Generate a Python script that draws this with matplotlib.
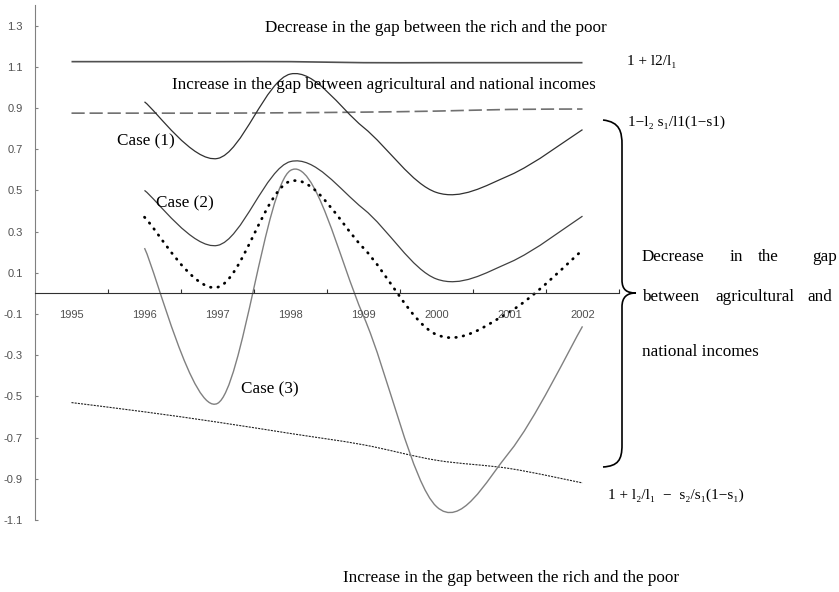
import numpy as np
import matplotlib
matplotlib.use("Agg")
import matplotlib.pyplot as plt
from matplotlib.path import Path
from matplotlib.patches import PathPatch

plt.rcParams['lines.scale_dashes'] = False

years = ["1995", "1996", "1997", "1998", "1999", "2000", "2001", "2002"]
y_ticks = [1.3, 1.1, 0.9, 0.7, 0.5, 0.3, 0.1, -0.1, -0.3, -0.5, -0.7, -0.9, -1.1]

# boundary lines, 1995-2002
upper_bound = [1.125, 1.125, 1.125, 1.125, 1.12, 1.12, 1.12, 1.12]
middle_bound = [0.875, 0.875, 0.875, 0.877, 0.88, 0.885, 0.893, 0.895]
lower_bound = [-0.53, -0.575, -0.625, -0.68, -0.735, -0.81, -0.85, -0.92]

# the three cases, 1996-2002
case1 = [0.93, 0.655, 1.065, 0.806, 0.49, 0.573, 0.795]
case2 = [0.50, 0.233, 0.64, 0.41, 0.07, 0.15, 0.375]
case_dotted = [0.37, 0.03, 0.545, 0.22, -0.2, -0.09, 0.21]
case3 = [0.22, -0.534, 0.597, -0.11, -1.035, -0.77, -0.16]

SERIF = ['Liberation Serif', 'DejaVu Serif']
NARROW = ['Liberation Sans Narrow', 'Liberation Sans']
W, H = 839, 592


def smooth(xs, ys):
    # Excel-style smoothed line: Catmull-Rom segments as cubic Beziers
    pts = np.column_stack([xs, ys]).astype(float)
    p = np.vstack([pts[0], pts, pts[-1]])
    verts, codes = [pts[0]], [Path.MOVETO]
    for i in range(1, len(p) - 2):
        c1 = p[i] + (p[i + 1] - p[i - 1]) / 6
        c2 = p[i + 1] - (p[i + 2] - p[i]) / 6
        verts += [c1, c2, p[i + 1]]
        codes += [Path.CURVE4] * 3
    return Path(verts, codes)


def draw(ax, xs, ys, **kw):
    ax.add_patch(PathPatch(smooth(xs, ys), fill=False, **kw))


def fx(x):
    return x / W


def fy(y):
    return 1 - y / H


fig = plt.figure(figsize=(W / 100, H / 100), dpi=100)
ax = fig.add_axes([fx(35), fy(520), (619 - 35) / W, 515 / H])

idx = np.arange(len(years))
draw(ax, idx, upper_bound, color='#505050', lw=1.2)
draw(ax, idx, middle_bound, color='#707070', lw=1.2, linestyle=(0, (9.5, 3.5)))
draw(ax, idx, lower_bound, color='#202020', lw=0.8, linestyle=(0, (1.5, 0.8)))

cx = idx[1:]
draw(ax, cx, case1, color='#303030', lw=0.9)
draw(ax, cx, case2, color='#404040', lw=0.9)
draw(ax, cx, case3, color='#808080', lw=1.0)
draw(ax, cx, case_dotted, color='black', lw=2.0, linestyle=(0, (0.4, 5.0)),
     capstyle='round')

ax.set_xlim(-0.5, len(years) - 0.5)
ax.set_ylim(-1.1, 1.4)

for s in ['top', 'right']:
    ax.spines[s].set_visible(False)
ax.spines['bottom'].set_position(('data', 0))
ax.spines['bottom'].set_color('#303030')
ax.spines['left'].set_color('#808080')

ax.set_xticks(idx + 0.5)
ax.set_xticklabels([])
ax.set_xticks(idx, minor=True)
ax.set_xticklabels(years, minor=True, fontsize=8, color='#505050', family=NARROW)
ax.tick_params(axis='x', which='major', direction='in', length=3, color='#303030')
ax.tick_params(axis='x', which='minor', length=0, pad=12)

ax.set_yticks(y_ticks)
ax.set_yticklabels(['%.1f' % v for v in y_ticks], fontsize=8, color='#505050',
                   family=NARROW)
ax.tick_params(axis='y', direction='in', length=2.5, color='#808080', pad=9)

# text annotations
big = 12.3
fig.text(fx(436), fy(28), "Decrease in the gap between the rich and the poor",
         ha='center', va='center', fontsize=big, family=SERIF)
fig.text(fx(384), fy(85), "Increase in the gap between agricultural and national incomes",
         ha='center', va='center', fontsize=big, family=SERIF)
fig.text(fx(511), fy(578), "Increase in the gap between the rich and the poor",
         ha='center', va='center', fontsize=big, family=SERIF)

fig.text(fx(117), fy(141), "Case (1)", ha='left', va='center', fontsize=big, family=SERIF)
fig.text(fx(156), fy(203), "Case (2)", ha='left', va='center', fontsize=big, family=SERIF)
fig.text(fx(241), fy(389), "Case (3)", ha='left', va='center', fontsize=big, family=SERIF)

fig.text(fx(627), fy(61), "1 + l2/l\u2081", ha='left', va='center', fontsize=11, family=SERIF)
fig.text(fx(628), fy(122), "1\u2212l\u2082 s\u2081/l1(1\u2212s1)", ha='left', va='center',
         fontsize=11, family=SERIF)
fig.text(fx(608), fy(495), "1 + l\u2082/l\u2081  \u2212  s\u2082/s\u2081(1\u2212s\u2081)",
         ha='left', va='center', fontsize=11, family=SERIF)

# justified block to the right of the brace
for word, x, y in [("Decrease", 642, 257), ("in", 730, 257), ("the", 758, 257),
                   ("gap", 812, 257), ("between", 642, 297), ("agricultural", 715, 297),
                   ("and", 807, 297), ("national incomes", 642, 352)]:
    fig.text(fx(x), fy(y), word, ha='left', va='center', fontsize=big, family=SERIF)

# curly brace
brace = [(603, 120), (620, 122), (622, 132), (622, 145),
         (622, 280),
         (622, 290), (627, 293), (636, 293),
         (627, 293), (622, 297), (622, 307),
         (622, 445),
         (622, 460), (618, 466), (603, 467)]
codes = [Path.MOVETO] + [Path.CURVE4] * 3 + [Path.LINETO] + [Path.CURVE4] * 6 + \
        [Path.LINETO] + [Path.CURVE4] * 3
bpath = Path([(fx(x), fy(y)) for x, y in brace], codes)
fig.add_artist(PathPatch(bpath, fill=False, lw=1.2, color='black',
                         transform=fig.transFigure))

fig.savefig("out.png", dpi=100)
